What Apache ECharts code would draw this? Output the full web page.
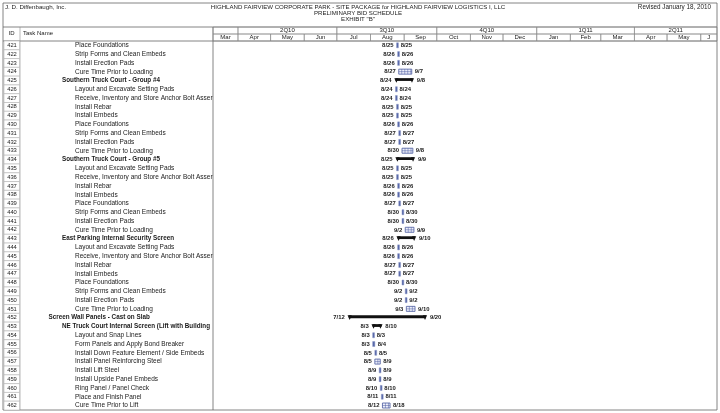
<!DOCTYPE html>
<html><head><meta charset="utf-8">
<script src="https://cdn.jsdelivr.net/npm/echarts@6/dist/echarts.min.js"></script>
<style>html,body{margin:0;padding:0;background:#fff}#c{width:720px;height:413px}</style>
</head><body><div id="c"></div>
<script>
const ids = [421,422,423,424,425,426,427,428,429,430,431,432,433,434,435,436,437,438,439,440,441,442,443,444,445,446,447,448,449,450,451,452,453,454,455,456,457,458,459,460,461,462];
const taskNames = [
 'Place Foundations','Strip Forms and Clean Embeds','Install Erection Pads','Cure Time Prior to Loading',
 'Southern Truck Court - Group #4','Layout and Excavate Setting Pads','Receive, Inventory and Store Anchor Bolt Asser',
 'Install Rebar','Install Embeds','Place Foundations','Strip Forms and Clean Embeds','Install Erection Pads','Cure Time Prior to Loading',
 'Southern Truck Court - Group #5','Layout and Excavate Setting Pads','Receive, Inventory and Store Anchor Bolt Asser',
 'Install Rebar','Install Embeds','Place Foundations','Strip Forms and Clean Embeds','Install Erection Pads','Cure Time Prior to Loading',
 'East Parking Internal Security Screen','Layout and Excavate Setting Pads','Receive, Inventory and Store Anchor Bolt Asser',
 'Install Rebar','Install Embeds','Place Foundations','Strip Forms and Clean Embeds','Install Erection Pads','Cure Time Prior to Loading',
 'Screen Wall Panels - Cast on Slab','NE Truck Court Internal Screen (Lift with Building','Layout and Snap Lines',
 'Form Panels and Apply Bond Breaker','Install Down Feature Element / Side Embeds','Install Panel Reinforcing Steel',
 'Install Lift Steel','Install Upside Panel Embeds','Ring Panel / Panel Check','Place and Finish Panel','Cure Time Prior to Lift'];
const levels = [2,2,2,2,1,2,2,2,2,2,2,2,2,1,2,2,2,2,2,2,2,2,1,2,2,2,2,2,2,2,2,0,1,2,2,2,2,2,2,2,2,2];
const kinds  = ['task','task','task','cure','summary','task','task','task','task','task','task','task','cure','summary','task','task','task','task','task','task','task','cure','summary','task','task','task','task','task','task','task','cure','summary','summary','task','task','task','cure','task','task','task','task','cure'];
const starts = ['2010-08-25','2010-08-26','2010-08-26','2010-08-27','2010-08-24','2010-08-24','2010-08-24','2010-08-25','2010-08-25','2010-08-26','2010-08-27','2010-08-27','2010-08-30',
 '2010-08-25','2010-08-25','2010-08-25','2010-08-26','2010-08-26','2010-08-27','2010-08-30','2010-08-30','2010-09-02',
 '2010-08-26','2010-08-26','2010-08-26','2010-08-27','2010-08-27','2010-08-30','2010-09-02','2010-09-02','2010-09-03',
 '2010-07-12','2010-08-03','2010-08-03','2010-08-03','2010-08-05','2010-08-05','2010-08-09','2010-08-09','2010-08-10','2010-08-11','2010-08-12'];
const ends   = ['2010-08-25','2010-08-26','2010-08-26','2010-09-07','2010-09-08','2010-08-24','2010-08-24','2010-08-25','2010-08-25','2010-08-26','2010-08-27','2010-08-27','2010-09-08',
 '2010-09-09','2010-08-25','2010-08-25','2010-08-26','2010-08-26','2010-08-27','2010-08-30','2010-08-30','2010-09-09',
 '2010-09-10','2010-08-26','2010-08-26','2010-08-27','2010-08-27','2010-08-30','2010-09-02','2010-09-02','2010-09-10',
 '2010-09-20','2010-08-10','2010-08-03','2010-08-04','2010-08-05','2010-08-09','2010-08-09','2010-08-09','2010-08-10','2010-08-11','2010-08-18'];
const monthStarts = ['2010-03-01','2010-04-01','2010-05-01','2010-06-01','2010-07-01','2010-08-01','2010-09-01','2010-10-01','2010-11-01','2010-12-01','2011-01-01','2011-02-01','2011-03-01','2011-04-01','2011-05-01','2011-06-01','2011-07-01'];
const monthLabels = ['Mar','Apr','May','Jun','Jul','Aug','Sep','Oct','Nov','Dec','Jan','Feb','Mar','Apr','May','J'];
const quarterStarts = ['2010-01-01','2010-04-01','2010-07-01','2010-10-01','2011-01-01','2011-04-01','2011-07-01'];
const quarterLabels = ['','2Q10','3Q10','4Q10','1Q11','2Q11'];
const axisMin = '2010-03-09';
const axisMax = '2011-06-16';

const DAY = 86400000;
function ms(s){const p=s.split('-').map(Number);return new Date(p[0],p[1]-1,p[2]).getTime();}
function md(s){const p=s.split('-').map(Number);return p[1]+'/'+p[2];}
const kindIdx = {task:0,cure:1,summary:2};

const ganttData = ids.map((id,i)=>[i, ms(starts[i]), ms(ends[i])+DAY, kindIdx[kinds[i]]]);
const tableData = ids.map((id,i)=>[i, id, levels[i]]);
const monthData = monthLabels.map((l,i)=>[ms(monthStarts[i]), ms(monthStarts[i+1])]);
const quarterData = quarterLabels.map((l,i)=>[ms(quarterStarts[i]), ms(quarterStarts[i+1])]);

const FONT = 'Liberation Sans, Arial, sans-serif';
const LINE = '#8a8a8a';

function renderGantt(params, api){
  const i = params.dataIndex;
  const row = api.value(0);
  const s = api.coord([api.value(1), row]);
  const e = api.coord([api.value(2), row]);
  const kind = api.value(3);
  const cy = s[1];
  const x1 = s[0], x2 = e[0];
  const ch = [];
  let lx1 = x1 - 3, lx2 = x2 + 3;
  if (kind === 0) {
    const w = Math.max(x2 - x1, 1.8);
    ch.push({type:'rect', shape:{x:x1, y:cy-2.6, width:w, height:5}, style:{fill:'#5566a8', stroke:'#8894c4', lineWidth:0.5}});
  } else if (kind === 1) {
    const w = x2 - x1;
    ch.push({type:'rect', shape:{x:x1, y:cy-2.6, width:w, height:5}, style:{fill:'#eef0fa', stroke:'#4a5aa0', lineWidth:0.8}});
    ch.push({type:'line', shape:{x1:x1, y1:cy-0.1, x2:x2, y2:cy-0.1}, style:{stroke:'#4a5aa0', lineWidth:0.5}});
    for (let x = x1 + 3; x < x2 - 1; x += 3) {
      ch.push({type:'line', shape:{x1:x, y1:cy-2.6, x2:x, y2:cy+2.4}, style:{stroke:'#4a5aa0', lineWidth:0.5}});
    }
  } else {
    ch.push({type:'rect', shape:{x:x1, y:cy-2.4, width:x2-x1, height:2.8}, style:{fill:'#111'}});
    ch.push({type:'polygon', shape:{points:[[x1-1.2,cy-2.4],[x1+3,cy-2.4],[x1+0.9,cy+2.2]]}, style:{fill:'#111'}});
    ch.push({type:'polygon', shape:{points:[[x2-3,cy-2.4],[x2+1.2,cy-2.4],[x2-0.9,cy+2.2]]}, style:{fill:'#111'}});
    lx1 = x1 - 4; lx2 = x2 + 4;
  }
  const ts = {fontFamily:FONT, fontSize:5.9, fontWeight:'bold', fill:'#1a1a1a', verticalAlign:'middle'};
  ch.push({type:'text', style:Object.assign({x:lx1, y:cy, text:md(starts[i]), align:'right'}, ts)});
  ch.push({type:'text', style:Object.assign({x:lx2, y:cy, text:md(ends[i]), align:'left'}, ts)});
  return {type:'group', children:ch};
}

function renderTable(params, api){
  const i = params.dataIndex;
  const row = api.value(0);
  const c = api.coord([ms(axisMin), row]);
  const cy = c[1];
  const h = api.size([0,1])[1];
  const level = api.value(2);
  const bold = kinds[i] === 'summary';
  const indent = [48.5, 62, 75][level];
  return {type:'group', children:[
    {type:'rect', shape:{x:4, y:cy-h/2, width:15.5, height:h}, style:{fill:'#fff', stroke:'#a8a8a8', lineWidth:0.5}},
    {type:'text', style:{x:12, y:cy, text:String(ids[i]), align:'center', verticalAlign:'middle', fontFamily:FONT, fontSize:5.8, fill:'#222'}},
    {type:'text', style:{x:indent, y:cy, text:taskNames[i], align:'left', verticalAlign:'middle', fontFamily:FONT, fontSize: bold?6.3:6.5, fontWeight: bold?'bold':'normal', fill:'#1a1a1a'}}
  ]};
}

function makeHeader(rowY0, rowY1, labels){
  return function(params, api){
    const cs = params.coordSys;
    const a = api.coord([api.value(0), 0]);
    const b = api.coord([api.value(1), 0]);
    const top = api.coord([api.value(0), rowY1])[1];
    const bot = api.coord([api.value(0), rowY0])[1];
    const x1 = Math.max(a[0], cs.x), x2 = Math.min(b[0], cs.x + cs.width);
    if (x2 <= x1) return null;
    return {type:'group', children:[
      {type:'rect', shape:{x:x1, y:top, width:x2-x1, height:bot-top}, style:{fill:'none', stroke:LINE, lineWidth:0.6}},
      {type:'text', style:{x:(x1+x2)/2, y:(top+bot)/2+0.3, text:labels[params.dataIndex], align:'center', verticalAlign:'middle', fontFamily:FONT, fontSize:6, fill:'#222'}}
    ]};
  };
}

const chart = echarts.init(document.getElementById('c'), null, {renderer:'canvas'});
chart.setOption({
  animation:false,
  backgroundColor:'#fff',
  grid:[
    {left:213, right:3, top:41, bottom:3},
    {left:213, right:3, top:27, height:14}
  ],
  xAxis:[
    {type:'time', gridIndex:0, min:ms(axisMin), max:ms(axisMax), show:false},
    {type:'time', gridIndex:1, min:ms(axisMin), max:ms(axisMax), show:false}
  ],
  yAxis:[
    {type:'category', gridIndex:0, data:ids.map(String), inverse:true, show:false},
    {type:'value', gridIndex:1, min:0, max:2, show:false}
  ],
  series:[
    {type:'custom', xAxisIndex:0, yAxisIndex:0, renderItem:renderTable, data:tableData, encode:{y:0}, clip:false, silent:true},
    {type:'custom', xAxisIndex:0, yAxisIndex:0, renderItem:renderGantt, data:ganttData, encode:{x:[1,2], y:0}, clip:false, silent:true},
    {type:'custom', xAxisIndex:1, yAxisIndex:1, renderItem:makeHeader(0,1,monthLabels), data:monthData, encode:{x:[0,1]}, clip:false, silent:true},
    {type:'custom', xAxisIndex:1, yAxisIndex:1, renderItem:makeHeader(1,2,quarterLabels), data:quarterData, encode:{x:[0,1]}, clip:false, silent:true}
  ],
  graphic:[
    {type:'rect', shape:{x:3, y:3, width:714, height:407}, style:{fill:'none', stroke:'#666', lineWidth:0.8}, silent:true},
    {type:'line', shape:{x1:3, y1:27, x2:717, y2:27}, style:{stroke:'#666', lineWidth:0.8}, silent:true},
    {type:'line', shape:{x1:3, y1:41, x2:717, y2:41}, style:{stroke:'#666', lineWidth:0.8}, silent:true},
    {type:'line', shape:{x1:20, y1:27, x2:20, y2:410}, style:{stroke:LINE, lineWidth:0.6}, silent:true},
    {type:'line', shape:{x1:213, y1:27, x2:213, y2:410}, style:{stroke:'#666', lineWidth:0.8}, silent:true},
    {type:'text', style:{x:5, y:7, text:'J. D. Diffenbaugh, Inc.', fontFamily:FONT, fontSize:6.2, fill:'#222', verticalAlign:'middle'}},
    {type:'text', style:{x:358, y:7, text:'HIGHLAND FAIRVIEW CORPORATE PARK - SITE PACKAGE for HIGHLAND FAIRVIEW LOGISTICS I, LLC', align:'center', fontFamily:FONT, fontSize:6.1, fill:'#222', verticalAlign:'middle'}},
    {type:'text', style:{x:358, y:13.3, text:'PRELIMINARY BID SCHEDULE', align:'center', fontFamily:FONT, fontSize:6.1, fill:'#222', verticalAlign:'middle'}},
    {type:'text', style:{x:358, y:19.6, text:'EXHIBIT "B"', align:'center', fontFamily:FONT, fontSize:6.1, fill:'#222', verticalAlign:'middle'}},
    {type:'text', style:{x:711, y:7, text:'Revised January 18, 2010', align:'right', fontFamily:FONT, fontSize:6.3, fill:'#222', verticalAlign:'middle'}},
    {type:'text', style:{x:11.5, y:33.5, text:'ID', align:'center', fontFamily:FONT, fontSize:6, fill:'#222', verticalAlign:'middle'}},
    {type:'text', style:{x:23, y:33.5, text:'Task Name', align:'left', fontFamily:FONT, fontSize:6, fill:'#222', verticalAlign:'middle'}}
  ]
});
</script>
</body></html>
